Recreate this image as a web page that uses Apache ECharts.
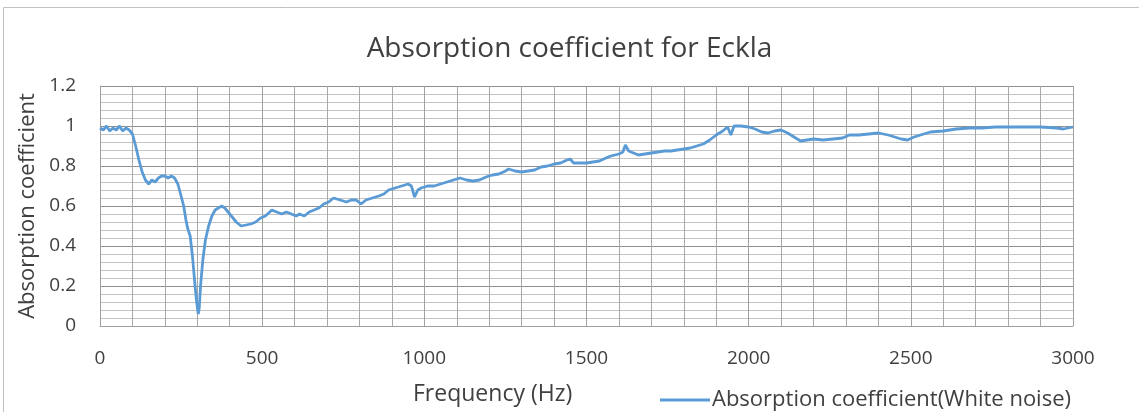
<!DOCTYPE html>
<html>
<head>
<meta charset="utf-8">
<script src="https://cdn.jsdelivr.net/npm/echarts@6/dist/echarts.min.js"></script>
<style>
  html, body { margin: 0; padding: 0; background: #fff; }
  #chart { width: 1139px; height: 412px; }
</style>
</head>
<body>
<div id="chart"></div>
<script>
// frequency (Hz) and absorption coefficient
const freqs = [
  0, 10, 20, 30, 40, 50, 60, 70, 80, 90, 100, 110, 120, 130, 140, 150, 160, 170, 180, 190,
  200, 210, 220, 230, 240, 250, 258, 265, 270, 278, 285, 292, 298, 303, 306, 310, 317, 325, 335, 345,
  355, 365, 375, 385, 395, 405, 420, 435, 450, 465, 480, 495, 510, 530, 545, 560, 575, 590, 605, 615,
  630, 645, 660, 675, 690, 705, 720, 740, 760, 775, 790, 805, 820, 840, 860, 875, 890, 910, 930, 950,
  960, 970, 980, 990, 1010, 1030, 1050, 1070, 1090, 1110, 1130, 1150, 1170, 1190, 1210, 1230, 1250, 1260, 1280, 1300,
  1320, 1340, 1360, 1380, 1400, 1420, 1440, 1450, 1460, 1480, 1500, 1520, 1540, 1560, 1575, 1600, 1612, 1620, 1630, 1645,
  1660, 1680, 1700, 1720, 1740, 1760, 1780, 1800, 1820, 1840, 1860, 1880, 1900, 1920, 1935, 1945, 1955, 1975, 2000, 2020,
  2040, 2060, 2080, 2100, 2120, 2140, 2160, 2180, 2200, 2230, 2260, 2290, 2310, 2340, 2370, 2400, 2430, 2450, 2470, 2490,
  2510, 2530, 2560, 2600, 2640, 2680, 2720, 2760, 2800, 2850, 2900, 2950, 2970, 3000
];
const absorption = [
  0.99, 0.98, 1.0, 0.975, 0.99, 0.98, 1.0, 0.975, 0.99, 0.98, 0.96, 0.90, 0.83, 0.77, 0.73, 0.71, 0.73, 0.72, 0.74, 0.75,
  0.75, 0.74, 0.75, 0.74, 0.71, 0.65, 0.60, 0.53, 0.49, 0.45, 0.35, 0.22, 0.12, 0.06, 0.09, 0.20, 0.33, 0.43, 0.50, 0.55,
  0.58, 0.59, 0.60, 0.59, 0.57, 0.55, 0.52, 0.50, 0.505, 0.51, 0.52, 0.54, 0.55, 0.58, 0.57, 0.56, 0.57, 0.56, 0.55, 0.56,
  0.55, 0.57, 0.58, 0.59, 0.61, 0.62, 0.64, 0.63, 0.62, 0.63, 0.63, 0.61, 0.63, 0.64, 0.65, 0.66, 0.68, 0.69, 0.70, 0.71,
  0.70, 0.645, 0.68, 0.69, 0.70, 0.70, 0.71, 0.72, 0.73, 0.74, 0.73, 0.725, 0.73, 0.745, 0.755, 0.76, 0.775, 0.785, 0.775, 0.77,
  0.775, 0.78, 0.795, 0.80, 0.81, 0.815, 0.83, 0.835, 0.815, 0.815, 0.815, 0.82, 0.825, 0.84, 0.85, 0.86, 0.87, 0.905, 0.875, 0.865,
  0.855, 0.86, 0.865, 0.87, 0.875, 0.875, 0.88, 0.885, 0.89, 0.90, 0.91, 0.93, 0.955, 0.975, 0.995, 0.955, 1.0, 1.0, 0.995, 0.985,
  0.97, 0.965, 0.975, 0.98, 0.965, 0.945, 0.925, 0.93, 0.935, 0.93, 0.935, 0.94, 0.955, 0.955, 0.96, 0.965, 0.955, 0.945, 0.935, 0.93,
  0.945, 0.955, 0.97, 0.975, 0.985, 0.99, 0.99, 0.995, 0.995, 0.995, 0.995, 0.99, 0.985, 0.995
];
const seriesName = "Absorption coefficient(White noise)";

const font = "'Open Sans', 'Noto Sans', sans-serif";
const chart = echarts.init(document.getElementById("chart"));

chart.setOption({
  backgroundColor: "#fff",
  animation: false,
  title: {
    text: "Absorption coefficient for Eckla",
    left: "center",
    top: 30,
    textStyle: { fontFamily: font, fontSize: 28, fontWeight: "normal", color: "#404040" }
  },
  legend: {
    data: [seriesName],
    left: 655,
    top: 384,
    itemWidth: 50,
    itemHeight: 3,
    itemGap: 4,
    icon: "rect",
    textStyle: { fontFamily: font, fontSize: 22, color: "#404040", padding: [0, 0, 0, -3] }
  },
  grid: { left: 100, right: 66, top: 86, bottom: 86 },
  xAxis: {
    type: "value",
    min: 0,
    max: 3000,
    interval: 500,
    axisLine: { show: true, lineStyle: { color: "#a0a0a0" } },
    axisTick: { show: false },
    axisLabel: { margin: 23, fontFamily: font, fontSize: 19, color: "#404040", formatter: (v) => String(v) },
    splitLine: { show: true, lineStyle: { color: "#a0a0a0", width: 1 } },
    minorTick: { show: false, splitNumber: 5 },
    minorSplitLine: { show: true, lineStyle: { color: "#a8a8a8", width: 1 } }
  },
  yAxis: {
    type: "value",
    min: 0,
    max: 1.2,
    interval: 0.2,
    name: "Absorption coefficient",
    nameLocation: "middle",
    nameGap: 58,
    nameTextStyle: { fontFamily: font, fontSize: 22, color: "#404040" },
    axisLine: { show: true, lineStyle: { color: "#a0a0a0" } },
    axisTick: { show: false },
    axisLabel: { margin: 24, fontFamily: font, fontSize: 19, color: "#404040" },
    splitLine: { show: true, lineStyle: { color: "#909090", width: 1 } },
    minorTick: { show: false, splitNumber: 5 },
    minorSplitLine: { show: true, lineStyle: { color: "#c4c4c4", width: 1 } }
  },
  graphic: [
    {
      type: "rect",
      shape: { x: 3.5, y: 7.5, width: 1150, height: 420 },
      style: { fill: null, stroke: "#c0c0c0", lineWidth: 1 },
      silent: true
    },
    {
      type: "text",
      left: 413,
      top: 383,
      style: { text: "Frequency (Hz)", fontFamily: font, fontSize: 23, fill: "#404040" }
    }
  ],
  series: [
    {
      name: seriesName,
      type: "line",
      data: freqs.map((f, i) => [f, absorption[i]]),
      showSymbol: false,
      symbol: "none",
      lineStyle: { color: "#5b9bd5", width: 2.8 },
      itemStyle: { color: "#5b9bd5" }
    }
  ]
});
</script>
</body>
</html>
